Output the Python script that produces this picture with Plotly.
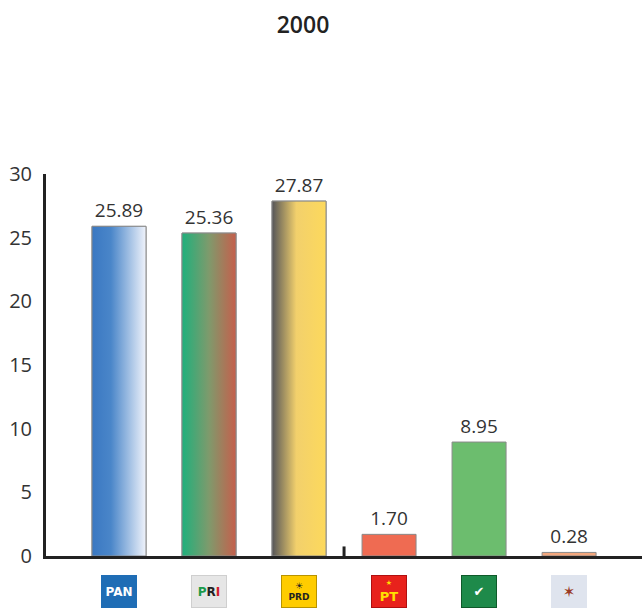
import plotly.graph_objects as go

# ---- data ----
categories = ["PAN", "PRI", "PRD", "PT", "PVEM", "Otro"]
values = [25.89, 25.36, 27.87, 1.70, 8.95, 0.28]
value_labels = ["25.89", "25.36", "27.87", "1.70", "8.95", "0.28"]
y_ticks = [0, 5, 10, 15, 20, 25, 30]

# ---- styles ----
bar_width = 0.6
solid_colors = ["rgba(0,0,0,0)", "rgba(0,0,0,0)", "rgba(0,0,0,0)", "#ef6b52", "#6cbd6e", "#f2a67c"]
gradients = {
    0: [[0, "#3a78c2"], [0.35, "#4a86c9"], [1, "#f0f3fb"]],
    1: [[0, "#1fb07c"], [0.5, "#7f9a6c"], [1, "#c55f4c"]],
    2: [[0, "#555558"], [0.45, "#f2d06c"], [1, "#fdd95c"]],
}
logo_style = [
    dict(bg="#1f6db5", fg="#ffffff", border="#1f6db5", text="<b>PAN</b>", size=12),
    dict(bg="#e6e6e6", fg="#222222", border="#cfcfcf",
         text="<b><span style='color:#1a9a4a'>P</span>R<span style='color:#d0202a'>I</span></b>", size=12),
    dict(bg="#ffcc00", fg="#222222", border="#b89300", text="☀<br><b>PRD</b>", size=9),
    dict(bg="#e8221c", fg="#ffe000", border="#b01010", text="<span style='font-size:7px'>★</span><br><b>PT</b>", size=13),
    dict(bg="#1e8a4a", fg="#ffffff", border="#0f5a2a", text="✔", size=13),
    dict(bg="#dfe4ee", fg="#9a3a22", border="#dfe4ee", text="✶", size=15),
]

x_pos = list(range(len(categories)))

fig = go.Figure()

fig.add_trace(go.Bar(
    x=x_pos, y=values, width=bar_width,
    marker=dict(color=solid_colors, line=dict(color="#8a8a8a", width=1)),
    text=value_labels, textposition="outside",
    textfont=dict(size=19, color="#333333", family="Open Sans"),
    cliponaxis=False, showlegend=False, hoverinfo="x+y",
))

# gradient bars drawn as filled polygons computed from the data
for i, cs in gradients.items():
    x0, x1 = x_pos[i] - bar_width / 2, x_pos[i] + bar_width / 2
    fig.add_trace(go.Scatter(
        x=[x0, x1, x1, x0, x0], y=[0, 0, values[i], values[i], 0],
        mode="lines", fill="toself",
        fillgradient=dict(type="horizontal", colorscale=cs),
        line=dict(color="#8a8a8a", width=1),
        showlegend=False, hoverinfo="skip",
    ))

# logos under the axis
for i, st in enumerate(logo_style):
    fig.add_annotation(
        x=x_pos[i], y=-0.05, xref="x", yref="paper",
        xanchor="center", yanchor="top",
        text=st["text"], showarrow=False,
        font=dict(size=st["size"], color=st["fg"], family="DejaVu Sans"),
        bgcolor=st["bg"], bordercolor=st["border"], borderwidth=1,
        width=32, height=29, borderpad=1, align="center", valign="middle",
    )

# small tick on baseline between PRD and PT
fig.add_shape(type="line", xref="x", yref="paper", x0=2.5, x1=2.5,
              y0=0, y1=0.025, line=dict(color="#222222", width=3))

fig.update_layout(
    width=642, height=608,
    margin=dict(l=46, r=0, t=174, b=52),
    paper_bgcolor="white", plot_bgcolor="white",
    title=dict(text="2000", x=0.472, xanchor="center", y=0.959, yanchor="middle",
               font=dict(size=23, color="#222222", family="Open Sans", weight=600)),
    font=dict(family="Open Sans", color="#333333"),
    bargap=0.4,
)
fig.update_xaxes(range=[-0.811, 5.81], showgrid=False, zeroline=False,
                 showticklabels=False, ticks="",
                 showline=True, linecolor="#222222", linewidth=3)
fig.update_yaxes(range=[0, 30], tickvals=y_ticks, showgrid=False, zeroline=False,
                 showline=True, linecolor="#222222", linewidth=3,
                 ticks="outside", ticklen=7, tickcolor="rgba(0,0,0,0)",
                 tickfont=dict(size=20, color="#333333", family="Open Sans"))

fig.write_html("out.html",
               config={"displayModeBar": False},
               post_script="document.body.style.margin='0';document.body.style.overflow='hidden';")
